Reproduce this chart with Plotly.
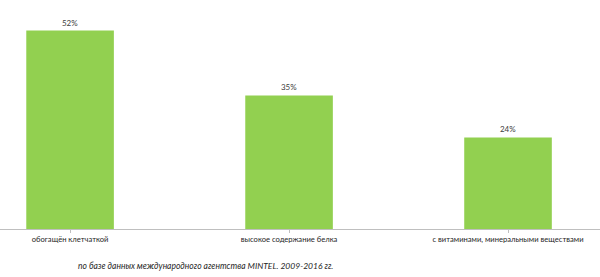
import plotly.graph_objects as go

categories = ["обогащён клетчаткой", "высокое содержание белка", "с витаминами, минеральными веществами"]
values = [52, 35, 24]
value_labels = ["52%", "35%", "24%"]
footnote = "по базе данных международного агентства MINTEL. 2009-2016 гг."

font_family = "Lato, Noto Sans, Liberation Sans, sans-serif"

fig = go.Figure()
fig.add_trace(go.Bar(
    x=[0, 1, 2],
    y=values,
    width=0.4,
    marker=dict(color="#92D050", line=dict(width=0)),
    text=value_labels,
    textposition="outside",
    textfont=dict(size=8, color="#404040", family=font_family),
    cliponaxis=False,
))

fig.update_layout(
    width=600, height=277,
    margin=dict(l=0, r=0, t=0, b=48),
    paper_bgcolor="white", plot_bgcolor="white",
    showlegend=False,
    font=dict(family=font_family, size=7.5, color="#404040"),
    xaxis=dict(
        range=[-0.32, 2.42],
        tickmode="array",
        tickvals=[0, 1, 2],
        ticktext=categories,
        tickfont=dict(size=7.6, color="#262626"),
        showline=True, linecolor="#BFBFBF", linewidth=1,
        ticks="outside", ticklen=3, tickcolor="#BFBFBF",
        tickson="boundaries",
        showgrid=False, zeroline=False,
    ),
    yaxis=dict(
        range=[0, 60],
        visible=False,
        showgrid=False, zeroline=False,
    ),
    bargap=0.6,
)

fig.add_annotation(
    text="<i>" + footnote + "</i>",
    xref="paper", yref="paper",
    x=205 / 600, y=-37 / 229,
    xanchor="center", yanchor="middle",
    showarrow=False,
    font=dict(size=8.5, color="#262626", family=font_family),
)

fig.write_html("out.html")
